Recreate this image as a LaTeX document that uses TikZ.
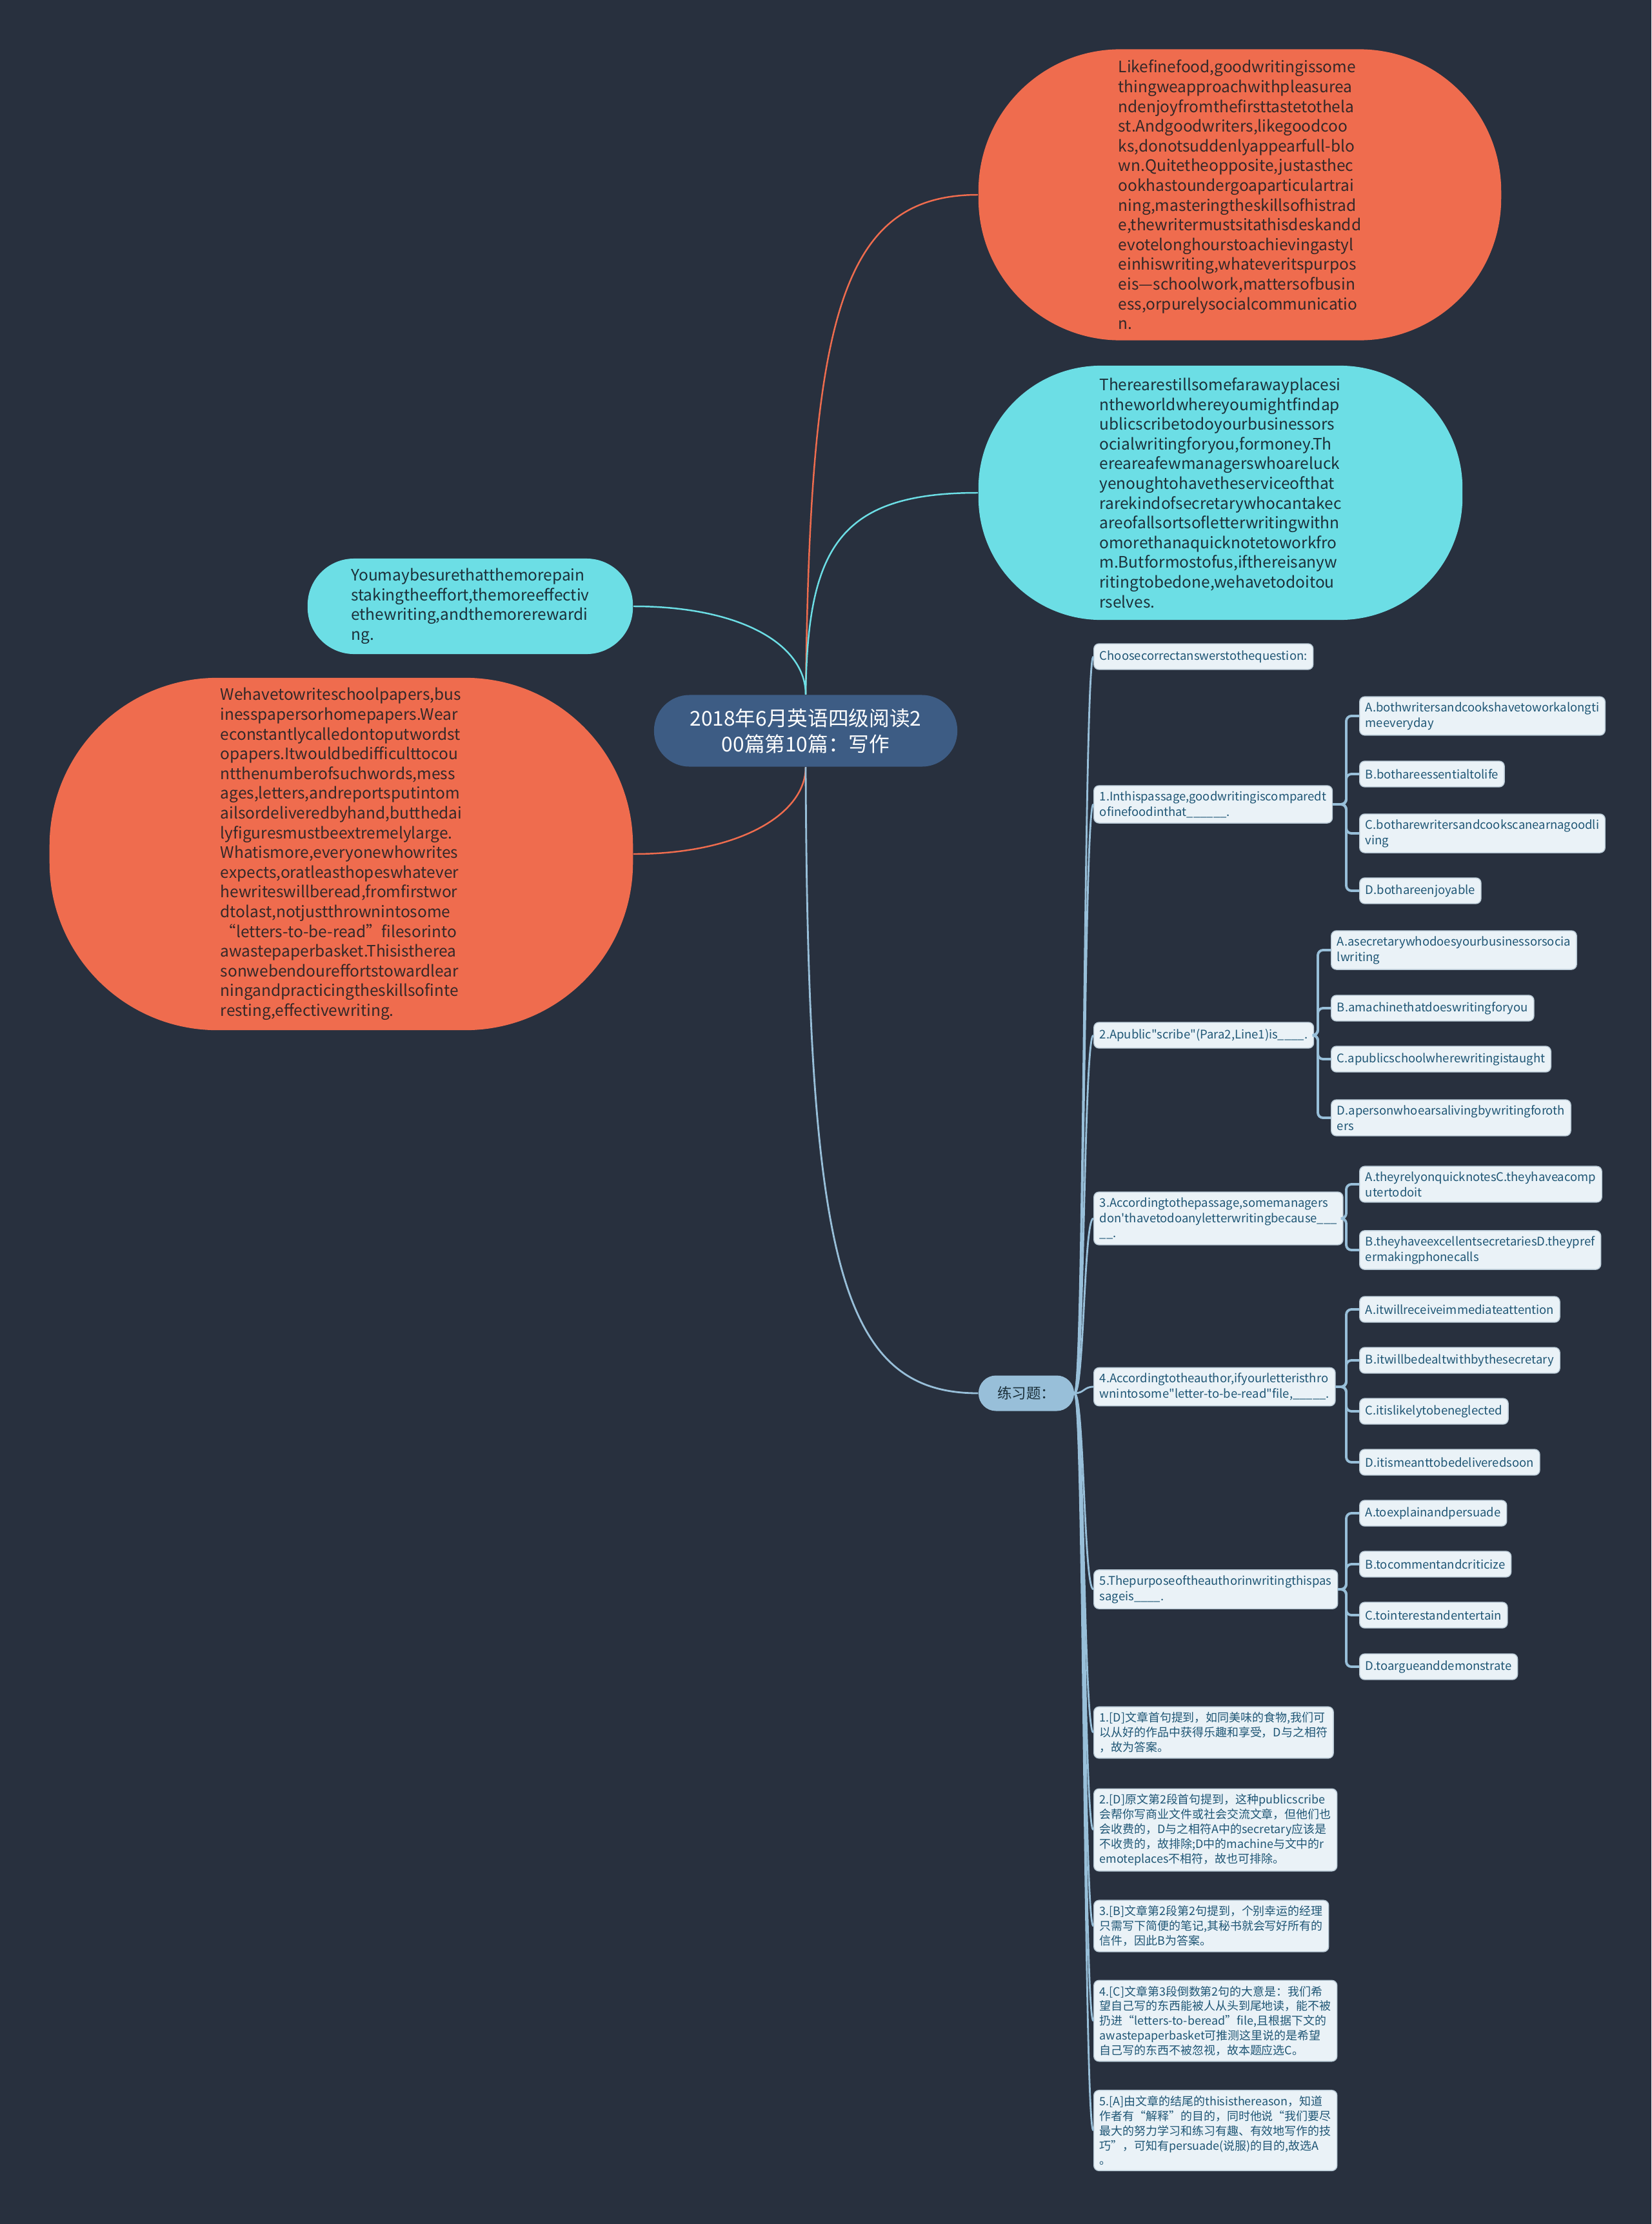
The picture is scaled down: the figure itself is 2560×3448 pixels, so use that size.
\documentclass[tikz,border=0pt]{standalone}
\usepackage{fontspec}
\setmainfont{Noto Sans CJK SC}[Ligatures=TeXOff]
\usepackage{xcolor}
\usepackage{tikz}
\usetikzlibrary{positioning,calc}

\definecolor{bgdark}{RGB}{40,48,62}
\definecolor{coral}{RGB}{239,108,78}
\definecolor{aqua}{RGB}{108,222,229}
\definecolor{rootblue}{RGB}{61,92,132}
\definecolor{paleblue}{RGB}{152,191,217}
\definecolor{optfill}{RGB}{234,242,247}
\definecolor{optborder}{RGB}{185,202,214}
\definecolor{opttext}{RGB}{31,86,117}
\definecolor{coraltext}{RGB}{52,40,40}
\definecolor{aquatext}{RGB}{28,48,58}

\begin{document}
\begin{tikzpicture}[
    x=0.01cm, y=-0.01cm,
    bubble/.style={
        rectangle,
        align=left,
        inner sep=0pt,
        font=\fontsize{6.95}{8.7}\selectfont
    },
    rootnode/.style={
        rectangle,
        fill=rootblue,
        text=white,
        align=center,
        rounded corners=0.55cm,
        minimum width=4.7cm,
        minimum height=1.11cm,
        font=\fontsize{9}{11.4}\selectfont
    },
    quiznode/.style={
        rectangle,
        fill=paleblue,
        text=aquatext,
        rounded corners=0.27cm,
        minimum width=1.48cm,
        minimum height=0.55cm,
        font=\fontsize{6.4}{7.6}\selectfont
    },
    optbox/.style={
        draw=optborder,
        line width=0.4pt,
        fill=optfill,
        text=opttext,
        rectangle,
        rounded corners=0.08cm,
        anchor=west,
        align=left,
        inner xsep=2.6pt,
        inner ysep=2.4pt,
        minimum height=0.4cm,
        font=\fontsize{5.25}{6.8}\selectfont
    },
    notebox/.style={
        optbox,
        font=\fontsize{5.1}{6.5}\selectfont
    },
    coralline/.style={draw=coral, line width=0.7pt},
    aqualine/.style={draw=aqua, line width=0.7pt},
    treeline/.style={draw=paleblue, line width=0.8pt},
    optline/.style={draw=paleblue, line width=1.1pt, rounded corners=0.08cm}
]

% ==========================================================
% BACKGROUND
% ==========================================================
\fill[bgdark] (0,0) rectangle (2560,3448);
\useasboundingbox (0,0) rectangle (2560,3448);

% ==========================================================
% ROOT AND PASSAGE BUBBLES
% ==========================================================
\node[rootnode] (root) at (1249,1133) {2018年6月英语四级阅读2\\00篇第10篇：写作};

\node[bubble, fill=coral, text=coraltext, minimum width=8.1cm, minimum height=4.51cm,
      rounded corners=2.2cm] (food) at (1922,302) {Likefinefood,goodwritingissome\\thingweapproachwithpleasurea\\ndenjoyfromthefirsttastetothela\\st.Andgoodwriters,likegoodcoo\\ks,donotsuddenlyappearfull-blo\\wn.Quitetheopposite,justasthec\\ookhastoundergoaparticulartrai\\ning,masteringtheskillsofhistrad\\e,thewritermustsitathisdeskandd\\evotelonghourstoachievingastyl\\einhiswriting,whateveritspurpos\\eis—schoolwork,mattersofbusin\\ess,orpurelysocialcommunicatio\\n.};

\node[bubble, fill=aqua, text=aquatext, minimum width=7.5cm, minimum height=3.94cm,
      rounded corners=1.9cm] (scribe) at (1892,764) {Therearestillsomefarawayplacesi\\ntheworldwhereyoumightfindap\\ublicscribetodoyourbusinessors\\ocialwritingforyou,formoney.Th\\ereareafewmanagerswhoareluck\\yenoughtohavetheserviceofthat\\rarekindofsecretarywhocantakec\\areofallsortsofletterwritingwithn\\omorethanaquicknotetoworkfro\\m.Butformostofus,ifthereisanyw\\ritingtobedone,wehavetodoitou\\rselves.};

\node[bubble, fill=aqua, text=aquatext, minimum width=5.04cm, minimum height=1.48cm,
      rounded corners=0.72cm] (effort) at (729,940) {Youmaybesurethatthemorepain\\stakingtheeffort,themoreeffectiv\\ethewriting,andthemorerewardi\\ng.};

\node[bubble, fill=coral, text=coraltext, minimum width=9.04cm, minimum height=5.46cm,
      rounded corners=2.6cm] (papers) at (529,1324) {Wehavetowriteschoolpapers,bus\\inesspapersorhomepapers.Wear\\econstantlycalledontoputwordst\\opapers.Itwouldbedifficulttocou\\ntthenumberofsuchwords,mess\\ages,letters,andreportsputintom\\ailsordeliveredbyhand,butthedai\\lyfiguresmustbeextremelylarge.\\Whatismore,everyonewhowrites\\expects,oratleasthopeswhatever\\hewriteswillberead,fromfirstwor\\dtolast,notjustthrownintosome\\“letters-to-be-read”filesorinto\\awastepaperbasket.Thisistherea\\sonwebendoureffortstowardlear\\ningandpracticingtheskillsofinte\\resting,effectivewriting.};

\node[quiznode] (quiz) at (1591,2160) {练习题：};

% ==========================================================
% QUESTIONS
% ==========================================================
\node[optbox] (intro) at (1695,1018) {Choosecorrectanswerstothequestion:};
\node[optbox] (q1) at (1695,1247) {1.Inthispassage,goodwritingiscomparedt\\ofinefoodinthat\_\_\_\_\_\_.};
\node[optbox] (q2) at (1695,1605) {2.Apublic"scribe"(Para2,Line1)is\_\_\_\_.};
\node[optbox] (q3) at (1695,1889) {3.Accordingtothepassage,somemanagers\\don'thavetodoanyletterwritingbecause\_\_\_\\\_\_.};
\node[optbox] (q4) at (1695,2150) {4.Accordingtotheauthor,ifyourletteristhro\\wnintosome"letter-to-be-read"file,\_\_\_\_\_.};
\node[optbox] (q5) at (1695,2464) {5.Thepurposeoftheauthorinwritingthispas\\sageis\_\_\_\_.};

% ==========================================================
% OPTIONS
% ==========================================================
\node[optbox] (q1a) at (2107,1110) {A.bothwritersandcookshavetoworkalongti\\meeveryday};
\node[optbox] (q1b) at (2107,1200) {B.bothareessentialtolife};
\node[optbox] (q1c) at (2107,1292) {C.botharewritersandcookscanearnagoodli\\ving};
\node[optbox] (q1d) at (2107,1381) {D.bothareenjoyable};

\node[optbox] (q2a) at (2063,1473) {A.asecretarywhodoesyourbusinessorsocia\\lwriting};
\node[optbox] (q2b) at (2063,1563) {B.amachinethatdoeswritingforyou};
\node[optbox] (q2c) at (2063,1642) {C.apublicschoolwherewritingistaught};
\node[optbox] (q2d) at (2063,1733) {D.apersonwhoearsalivingbywritingforoth\\ers};

\node[optbox] (q3a) at (2107,1836) {A.theyrelyonquicknotesC.theyhaveacomp\\utertodoit};
\node[optbox] (q3b) at (2107,1938) {B.theyhaveexcellentsecretariesD.theypref\\ermakingphonecalls};

\node[optbox] (q4a) at (2107,2030) {A.itwillreceiveimmediateattention};
\node[optbox] (q4b) at (2107,2109) {B.itwillbedealtwithbythesecretary};
\node[optbox] (q4c) at (2107,2188) {C.itislikelytobeneglected};
\node[optbox] (q4d) at (2107,2267) {D.itismeanttobedeliveredsoon};

\node[optbox] (q5a) at (2107,2346) {A.toexplainandpersuade};
\node[optbox] (q5b) at (2107,2425) {B.tocommentandcriticize};
\node[optbox] (q5c) at (2107,2504) {C.tointerestandentertain};
\node[optbox] (q5d) at (2107,2584) {D.toargueanddemonstrate};

% ==========================================================
% ANSWER NOTES
% ==========================================================
\node[notebox] (n1) at (1695,2686) {1.[D]文章首句提到，如同美味的食物,我们可\\以从好的作品中获得乐趣和享受，D与之相符\\，故为答案。};
\node[notebox] (n2) at (1695,2837) {2.[D]原文第2段首句提到，这种publicscribe\\会帮你写商业文件或社会交流文章，但他们也\\会收费的，D与之相符A中的secretary应该是\\不收贵的，故排除;D中的machine与文中的r\\emoteplaces不相符，故也可排除。};
\node[notebox] (n3) at (1695,2986) {3.[B]文章第2段第2句提到，个别幸运的经理\\只需写下简便的笔记,其秘书就会写好所有的\\信件，因此B为答案。};
\node[notebox] (n4) at (1695,3133) {4.[C]文章第3段倒数第2句的大意是：我们希\\望自己写的东西能被人从头到尾地读，能不被\\扔进“letters-to-beread”file,且根据下文的\\awastepaperbasket可推测这里说的是希望\\自己写的东西不被忽视，故本题应选C。};
\node[notebox] (n5) at (1695,3303) {5.[A]由文章的结尾的thisisthereason，知道\\作者有“解释”的目的，同时他说“我们要尽\\最大的努力学习和练习有趣、有效地写作的技\\巧”，可知有persuade(说服)的目的,故选A\\。};

% ==========================================================
% CONNECTIONS
% ==========================================================

% Root to bubbles
\draw[coralline] (root.north) .. controls (1256,500) and (1300,302) .. (food.west);
\draw[aqualine] (root.north) .. controls (1252,850) and (1300,764) .. (scribe.west);
\draw[aqualine] (root.north) .. controls (1249,1000) and (1150,940) .. (effort.east);
\draw[coralline] (root.south) .. controls (1249,1260) and (1150,1324) .. (papers.east);
\draw[treeline] (root.south) .. controls (1252,1950) and (1300,2160) .. (quiz.west);

% Quiz to questions and notes
\draw[treeline] (quiz.east) .. controls +(15,0) and +(-15,0) .. (intro.west);
\draw[treeline] (quiz.east) .. controls +(15,0) and +(-15,0) .. (q1.west);
\draw[treeline] (quiz.east) .. controls +(15,0) and +(-15,0) .. (q2.west);
\draw[treeline] (quiz.east) .. controls +(15,0) and +(-15,0) .. (q3.west);
\draw[treeline] (quiz.east) .. controls +(15,0) and +(-15,0) .. (q4.west);
\draw[treeline] (quiz.east) .. controls +(15,0) and +(-15,0) .. (q5.west);
\draw[treeline] (quiz.east) .. controls +(15,0) and +(-15,0) .. (n1.west);
\draw[treeline] (quiz.east) .. controls +(15,0) and +(-15,0) .. (n2.west);
\draw[treeline] (quiz.east) .. controls +(15,0) and +(-15,0) .. (n3.west);
\draw[treeline] (quiz.east) .. controls +(15,0) and +(-15,0) .. (n4.west);
\draw[treeline] (quiz.east) .. controls +(15,0) and +(-15,0) .. (n5.west);

% Question 1
\draw[optline] (q1.east) -- ([xshift=-0.2cm]q1a.west |- q1.east) |- (q1a.west);
\draw[optline] (q1.east) -- ([xshift=-0.2cm]q1b.west |- q1.east) |- (q1b.west);
\draw[optline] (q1.east) -- ([xshift=-0.2cm]q1c.west |- q1.east) |- (q1c.west);
\draw[optline] (q1.east) -- ([xshift=-0.2cm]q1d.west |- q1.east) |- (q1d.west);

% Question 2
\draw[optline] (q2.east) -- ([xshift=-0.2cm]q2a.west |- q2.east) |- (q2a.west);
\draw[optline] (q2.east) -- ([xshift=-0.2cm]q2b.west |- q2.east) |- (q2b.west);
\draw[optline] (q2.east) -- ([xshift=-0.2cm]q2c.west |- q2.east) |- (q2c.west);
\draw[optline] (q2.east) -- ([xshift=-0.2cm]q2d.west |- q2.east) |- (q2d.west);

% Question 3
\draw[optline] (q3.east) -- ([xshift=-0.2cm]q3a.west |- q3.east) |- (q3a.west);
\draw[optline] (q3.east) -- ([xshift=-0.2cm]q3b.west |- q3.east) |- (q3b.west);

% Question 4
\draw[optline] (q4.east) -- ([xshift=-0.2cm]q4a.west |- q4.east) |- (q4a.west);
\draw[optline] (q4.east) -- ([xshift=-0.2cm]q4b.west |- q4.east) |- (q4b.west);
\draw[optline] (q4.east) -- ([xshift=-0.2cm]q4c.west |- q4.east) |- (q4c.west);
\draw[optline] (q4.east) -- ([xshift=-0.2cm]q4d.west |- q4.east) |- (q4d.west);

% Question 5
\draw[optline] (q5.east) -- ([xshift=-0.2cm]q5a.west |- q5.east) |- (q5a.west);
\draw[optline] (q5.east) -- ([xshift=-0.2cm]q5b.west |- q5.east) |- (q5b.west);
\draw[optline] (q5.east) -- ([xshift=-0.2cm]q5c.west |- q5.east) |- (q5c.west);
\draw[optline] (q5.east) -- ([xshift=-0.2cm]q5d.west |- q5.east) |- (q5d.west);

\end{tikzpicture}
\end{document}
